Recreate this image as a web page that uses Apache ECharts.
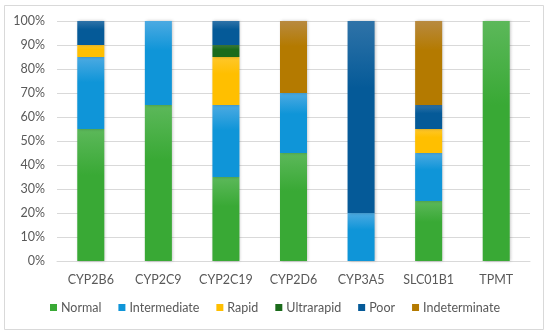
<!DOCTYPE html>
<html>
<head>
<meta charset="utf-8">
<script src="https://cdn.jsdelivr.net/npm/echarts@6/dist/echarts.min.js"></script>
<style>html,body{margin:0;padding:0;background:#fff;}#c{width:550px;height:335px;}</style>
</head>
<body>
<div id="c"></div>
<script>
var categories = ['CYP2B6','CYP2C9','CYP2C19','CYP2D6','CYP3A5','SLC01B1','TPMT'];
var normal        = [55, 65, 35, 45, 0, 25, 100];
var intermediate  = [30, 35, 30, 25, 20, 20, 0];
var rapid         = [5, 0, 20, 0, 0, 10, 0];
var ultrarapid    = [0, 0, 5, 0, 0, 0, 0];
var poor          = [10, 0, 10, 0, 80, 10, 0];
var indeterminate = [0, 0, 0, 30, 0, 35, 0];
var yTicks = [0,10,20,30,40,50,60,70,80,90,100];

var seriesDefs = [
  {name:'Normal', data:normal, top:'#5cb85a', main:'#39a935'},
  {name:'Intermediate', data:intermediate, top:'#4caae2', main:'#0f95d8'},
  {name:'Rapid', data:rapid, top:'#ffc72a', main:'#ffbf00'},
  {name:'Ultrarapid', data:ultrarapid, top:'#3f7f3f', main:'#1b6b1b'},
  {name:'Poor', data:poor, top:'#2f73a8', main:'#055a98'},
  {name:'Indeterminate', data:indeterminate, top:'#b88a40', main:'#b47a00'}
];

var chart = echarts.init(document.getElementById('c'), null, {renderer:'canvas'});
var font = 'Lato, "Open Sans", sans-serif';
chart.setOption({
  animation:false,
  backgroundColor:'#fff',
  graphic:[{type:'rect', shape:{x:4.5,y:5.5,width:539,height:324}, style:{fill:'none', stroke:'#d9d9d9', lineWidth:1}, silent:true}],
  grid:{left:57, right:20, top:21, bottom:74},
  legend:{
    bottom:16, left:'center', itemWidth:7, itemHeight:7, itemGap:17, icon:'rect',
    textStyle:{color:'#595959', fontSize:12.5, fontFamily:font, padding:[0,0,0,-1]},
    data: seriesDefs.map(function(s){return {name:s.name, itemStyle:{color:s.main}};})
  },
  xAxis:{
    type:'category', data:categories,
    axisLine:{lineStyle:{color:'#d9d9d9'}}, axisTick:{show:false},
    axisLabel:{color:'#595959', fontSize:12.5, fontFamily:font, margin:12, interval:0}
  },
  yAxis:{
    type:'value', min:0, max:100, interval:10,
    axisLabel:{formatter:'{value}%', color:'#595959', fontSize:12.5, fontFamily:font, margin:12},
    splitLine:{lineStyle:{color:'#d9d9d9'}},
    axisLine:{show:false}, axisTick:{show:false}
  },
  series: seriesDefs.map(function(s){
    return {
      name:s.name, type:'bar', stack:'total', barWidth:'40%',
      data:s.data.map(function(v){return v===0?null:v;}),
      itemStyle:{
        color:new echarts.graphic.LinearGradient(0,0,0,1,[{offset:0,color:s.top},{offset:0.35,color:s.main},{offset:1,color:s.main}]),
        shadowBlur:3, shadowColor:'rgba(0,0,0,0.25)', shadowOffsetX:1, shadowOffsetY:0
      }
    };
  })
});
</script>
</body>
</html>
